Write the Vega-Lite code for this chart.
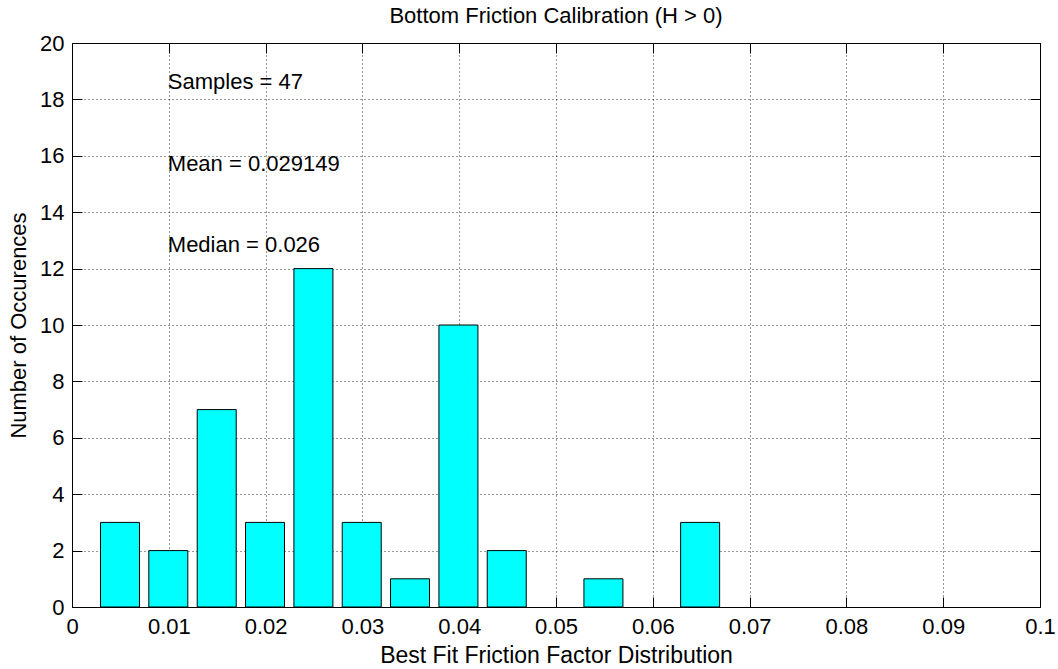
{
  "$schema": "https://vega.github.io/schema/vega-lite/v6.json",
  "width": 968,
  "height": 564,
  "autosize": {"type": "none"},
  "padding": {"left": 72, "top": 43, "right": 18, "bottom": 62},
  "background": "white",
  "title": {
    "text": "Bottom Friction Calibration (H > 0)",
    "frame": "group",
    "anchor": "middle",
    "font": "Liberation Sans",
    "fontSize": 22,
    "fontWeight": "normal",
    "color": "#000",
    "baseline": "alphabetic",
    "offset": -13
  },
  "config": {
    "view": {"stroke": "#000", "strokeWidth": 1},
    "font": "Liberation Sans",
    "axis": {
      "labelFont": "Liberation Sans",
      "titleFont": "Liberation Sans",
      "labelFontSize": 22,
      "titleFontSize": 22,
      "titleFontWeight": "normal",
      "labelColor": "#000",
      "titleColor": "#000",
      "tickColor": "#000",
      "tickSize": -10,
      "tickWidth": 1,
      "domain": false,
      "gridColor": "#000",
      "gridDash": [1, 3],
      "gridOpacity": 0.8,
      "gridWidth": 1
    }
  },
  "datasets": {
    "bins": [
      {"center": 0.00496, "count": 3},
      {"center": 0.00995, "count": 2},
      {"center": 0.01495, "count": 7},
      {"center": 0.01994, "count": 3},
      {"center": 0.02494, "count": 12},
      {"center": 0.02993, "count": 3},
      {"center": 0.03492, "count": 1},
      {"center": 0.03992, "count": 10},
      {"center": 0.04491, "count": 2},
      {"center": 0.05490, "count": 1},
      {"center": 0.06489, "count": 3}
    ],
    "notes": [
      {"label": "Samples = 47", "fx": 0.01, "fy": 18.6},
      {"label": "Mean = 0.029149", "fx": 0.01, "fy": 15.7},
      {"label": "Median = 0.026", "fx": 0.01, "fy": 12.85}
    ]
  },
  "layer": [
    {
      "data": {"name": "bins"},
      "mark": {"type": "bar", "width": 39, "fill": "#00FFFF", "stroke": "#000", "strokeWidth": 1},
      "encoding": {
        "x": {
          "field": "center",
          "type": "quantitative",
          "scale": {"domain": [0, 0.1], "nice": false, "zero": false, "padding": 0},
          "axis": {
            "orient": "bottom",
            "values": [0, 0.01, 0.02, 0.03, 0.04, 0.05, 0.06, 0.07, 0.08, 0.09, 0.1],
            "format": "~g",
            "grid": true,
            "labelPadding": 36,
            "labelBaseline": "alphabetic",
            "labelFlush": false,
            "title": "Best Fit Friction Factor Distribution",
            "titleFontSize": 23,
            "titleBaseline": "alphabetic",
            "titleX": 484,
            "titleY": 55,
            "titleAnchor": "middle"
          }
        },
        "y": {
          "field": "count",
          "type": "quantitative",
          "scale": {"domain": [0, 20], "nice": false, "padding": 0},
          "axis": {
            "orient": "left",
            "values": [0, 2, 4, 6, 8, 10, 12, 14, 16, 18, 20],
            "grid": true,
            "labelPadding": 18,
            "labelFlush": false,
            "title": "Number of Occurences",
            "titleAngle": -90,
            "titleBaseline": "alphabetic",
            "titleAlign": "center",
            "titleX": -47,
            "titleY": 282
          }
        }
      }
    },
    {
      "data": {"name": "notes"},
      "mark": {"type": "text", "align": "left", "baseline": "middle", "dx": -1, "font": "Liberation Sans", "fontSize": 22, "color": "#000"},
      "encoding": {
        "text": {"field": "label"},
        "x": {
          "field": "fx",
          "type": "quantitative",
          "scale": {"domain": [0, 0.1], "nice": false, "zero": false, "padding": 0},
          "axis": {
            "orient": "top",
            "values": [0, 0.01, 0.02, 0.03, 0.04, 0.05, 0.06, 0.07, 0.08, 0.09, 0.1],
            "labels": false,
            "grid": false,
            "title": null
          }
        },
        "y": {
          "field": "fy",
          "type": "quantitative",
          "scale": {"domain": [0, 20], "nice": false, "padding": 0},
          "axis": {
            "orient": "right",
            "values": [0, 2, 4, 6, 8, 10, 12, 14, 16, 18, 20],
            "labels": false,
            "grid": false,
            "title": null
          }
        }
      }
    }
  ]
}
